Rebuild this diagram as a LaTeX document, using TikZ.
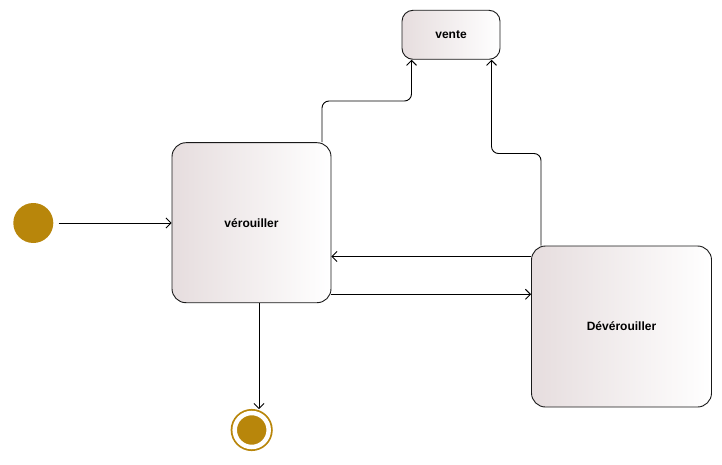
\documentclass[tikz,border=0pt]{standalone}
\usepackage{fontspec}
\setmainfont{Liberation Sans}
\usepackage{tikz}
\usetikzlibrary{arrows.meta,positioning,calc}

\definecolor{goldish}{HTML}{B8860B}
\definecolor{rosegris}{HTML}{E6DDDE}

\begin{document}
\begin{tikzpicture}[x=1pt,y=-1pt,
  every node/.style={align=center,font=\bfseries\fontsize{12}{14}\selectfont},
  start/.style={circle,fill=goldish,minimum size=40pt,inner sep=0pt},
  stop/.style={circle,fill=goldish,draw=goldish,line width=1.8pt,double=white,double distance=4.5pt,minimum size=34pt,inner sep=0pt},
  etat/.style={draw=black!90,line width=0.9pt,rounded corners=14pt,left color=rosegris,right color=white,inner sep=0pt},
  trans/.style={-{Straight Barb[length=5pt,width=10pt]},line width=0.9pt,rounded corners=7pt}]

    \useasboundingbox (0,0) rectangle (722,465);

    \node[start](init) at (33.3,223) {};
    \node[etat,minimum width=159pt,minimum height=160pt](ver) at (251.5,222.7) {vérouiller};
    \node[etat,minimum width=98pt,minimum height=49pt,rounded corners=11pt](vente) at (451,34.8) {vente};
    \node[etat,minimum width=180pt,minimum height=161pt](dev) at (621.5,326.5) {Dévérouiller};
    \node[stop](fin) at (251.7,430) {};

    \coordinate (k1) at (360,101);
    \coordinate (k2) at (510,153.5);

    \draw[trans] ([xshift=5pt]init.east) -- (init -| ver.west);
    \draw[trans] ([xshift=70.5pt]ver.north) |- (k1) -| ([xshift=-39.5pt]vente.south);
    \draw[trans] ([xshift=-80.5pt]dev.north) |- (k2) -| ([xshift=40.5pt]vente.south);
    \draw[trans] ($(dev.west)+(0,-70)$) coordinate (d1) -- (d1 -| ver.east);
    \draw[trans] ($(ver.east)+(0,71.6)$) coordinate (v1) -- (v1 -| dev.west);
    \draw[trans,shorten >=3pt] ($(ver.south)+(7.5,0)$) coordinate (v2) -- (v2 |- fin.north);
\end{tikzpicture}
\end{document}
